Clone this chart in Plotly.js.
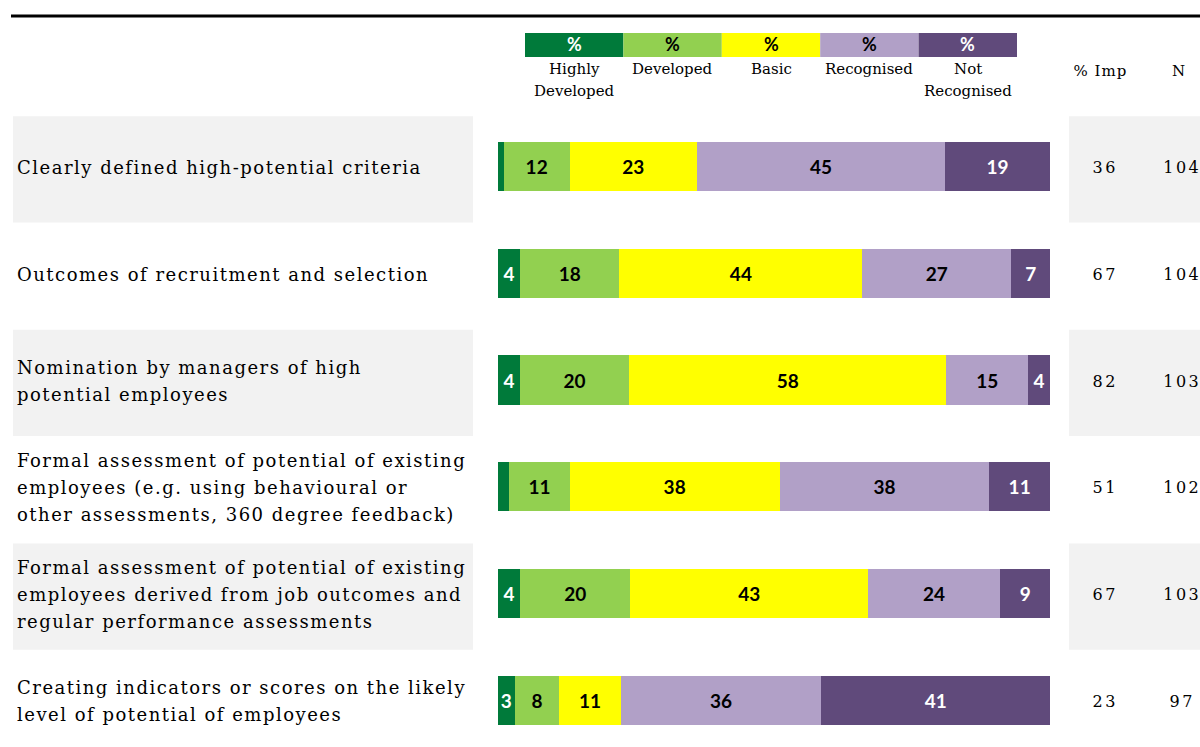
<!DOCTYPE html>
<html>
<head>
<meta charset="utf-8">
<script src="https://cdn.plot.ly/plotly-3.0.1.min.js"></script>
<style>html,body{margin:0;padding:0;background:#fff;}#chart{width:1200px;height:747px;}</style>
</head>
<body>
<div id="chart"></div>
<script>
// ---- data ----
const categories = [
  "Clearly defined high-potential criteria",
  "Outcomes of recruitment and selection",
  "Nomination by managers of high<br>potential employees",
  "Formal assessment of potential of existing<br>employees (e.g. using behavioural or<br>other assessments, 360 degree feedback)",
  "Formal assessment of potential of existing<br>employees derived from job outcomes and<br>regular performance assessments",
  "Creating indicators or scores on the likely<br>level of potential of employees"
];
const seriesNames = ["Highly<br>Developed", "Developed", "Basic", "Recognised", "Not<br>Recognised"];
const highlyDeveloped = [1, 4, 4, 2, 4, 3];
const developed       = [12, 18, 20, 11, 20, 8];
const basic           = [23, 44, 58, 38, 43, 11];
const recognised      = [45, 27, 15, 38, 24, 36];
const notRecognised   = [19, 7, 4, 11, 9, 41];
const pctImp = [36, 67, 82, 51, 67, 23];
const nValues = [104, 104, 103, 102, 103, 97];
const columnHeaders = ["% Imp", "N"];
const headerSymbol = "%";

// ---- styles ----
const colors = ["#007A3A", "#92D050", "#FFFF00", "#B1A0C7", "#604A7B"];
const textColors = ["#ffffff", "#000000", "#000000", "#000000", "#ffffff"];
const serif = "DejaVu Serif, serif";
const sans = "Lato, Open Sans, sans-serif";

const W = 1200, H = 747, L = 498, R = 150, T = 113, B = 0;
const plotW = W - L - R, plotH = H - T - B;
const xp = px => (px - L) / plotW;
const yp = py => (H - B - py) / plotH;
const rowPx = 106.8;
const yTop = -0.5, yBottom = -0.5 + plotH / rowPx;

const allSeries = [highlyDeveloped, developed, basic, recognised, notRecognised];
const traces = allSeries.map((vals, s) => ({
  type: "bar",
  orientation: "h",
  name: seriesNames[s].replace("<br>", " "),
  y: categories,
  x: vals,
  marker: {color: colors[s], line: {width: 0}},
  text: vals.map(v => v >= 3 ? String(v) : ""),
  textposition: "inside",
  insidetextanchor: "middle",
  textangle: 0,
  constraintext: "none",
  textfont: {family: sans, size: 19, color: textColors[s], weight: 700},
  hoverinfo: "skip"
}));

const shapes = [];
const annotations = [];
const spacing = {}; // annotation index -> letter spacing (px)

// top rule
shapes.push({type: "line", xref: "paper", yref: "paper", x0: xp(11), x1: xp(1200), y0: yp(16), y1: yp(16),
  line: {color: "#000", width: 3}});

// grey row backgrounds (alternate rows)
categories.forEach((c, i) => {
  if (i % 2 === 0) {
    shapes.push({type: "rect", xref: "paper", yref: "y", x0: xp(13), x1: xp(473), y0: i - 0.47, y1: i + 0.525,
      fillcolor: "#F2F2F2", line: {width: 0}, layer: "below"});
    shapes.push({type: "rect", xref: "paper", yref: "y", x0: xp(1069), x1: xp(1200), y0: i - 0.47, y1: i + 0.525,
      fillcolor: "#F2F2F2", line: {width: 0}, layer: "below"});
  }
});

// row labels, each line separately for exact spacing
categories.forEach((c, i) => {
  const lines = c.split("<br>");
  lines.forEach((ln, k) => {
    spacing[annotations.length] = 1.5;
    annotations.push({xref: "paper", yref: "y", x: xp(15), y: i, xanchor: "left", yanchor: "middle", align: "left",
      yshift: -((k - (lines.length - 1) / 2) * 27) - 1,
      text: ln, showarrow: false, font: {family: serif, size: 18, color: "#000"}});
  });
  spacing[annotations.length] = 2.5;
  annotations.push({xref: "paper", yref: "y", x: xp(1105), y: i, xanchor: "center", yanchor: "middle", yshift: -1,
    text: String(pctImp[i]), showarrow: false, font: {family: serif, size: 16, color: "#000"}});
  spacing[annotations.length] = 2.5;
  annotations.push({xref: "paper", yref: "y", x: xp(1182), y: i, xanchor: "center", yanchor: "middle", yshift: -1,
    text: String(nValues[i]), showarrow: false, font: {family: serif, size: 16, color: "#000"}});
});

// header legend boxes
const boxL = 525, boxR = 1017, boxW = (boxR - boxL) / seriesNames.length;
seriesNames.forEach((nm, s) => {
  const x0 = boxL + s * boxW, x1 = x0 + boxW;
  shapes.push({type: "rect", xref: "paper", yref: "paper", x0: xp(x0), x1: xp(x1), y0: yp(57), y1: yp(33),
    fillcolor: colors[s], line: {width: 0}});
  annotations.push({xref: "paper", yref: "paper", x: xp((x0 + x1) / 2), y: yp(44), xanchor: "center", yanchor: "middle",
    text: headerSymbol, showarrow: false, font: {family: sans, size: 18, color: textColors[s], weight: 700}});
  nm.split("<br>").forEach((ln, k) => {
    annotations.push({xref: "paper", yref: "paper", x: xp((x0 + x1) / 2), y: yp(69 + k * 22), xanchor: "center", yanchor: "middle",
      text: ln, showarrow: false, font: {family: serif, size: 15, color: "#000"}});
  });
});
spacing[annotations.length] = 1;
annotations.push({xref: "paper", yref: "paper", x: xp(1100), y: yp(71), xanchor: "center", yanchor: "middle",
  text: columnHeaders[0], showarrow: false, font: {family: serif, size: 15, color: "#000"}});
annotations.push({xref: "paper", yref: "paper", x: xp(1178), y: yp(71), xanchor: "center", yanchor: "middle",
  text: columnHeaders[1], showarrow: false, font: {family: serif, size: 15, color: "#000"}});

const layout = {
  width: W, height: H,
  margin: {l: L, r: R, t: T, b: B, pad: 0},
  barmode: "stack",
  barnorm: "percent",
  bargap: 0.54,
  showlegend: false,
  paper_bgcolor: "#ffffff",
  plot_bgcolor: "rgba(0,0,0,0)",
  xaxis: {range: [0, 100], visible: false, fixedrange: true},
  yaxis: {type: "category", categoryorder: "array", categoryarray: categories,
    range: [yBottom, yTop], showticklabels: false, showgrid: false, zeroline: false, showline: false, ticks: "", fixedrange: true},
  shapes: shapes,
  annotations: annotations,
  hovermode: false
};

Plotly.newPlot("chart", traces, layout, {displayModeBar: false, staticPlot: true}).then(gd => {
  Object.keys(spacing).forEach(idx => {
    gd.querySelectorAll('.annotation[data-index="' + idx + '"] text').forEach(t => {
      t.style.letterSpacing = spacing[idx] + "px";
    });
  });
});
</script>
</body>
</html>
